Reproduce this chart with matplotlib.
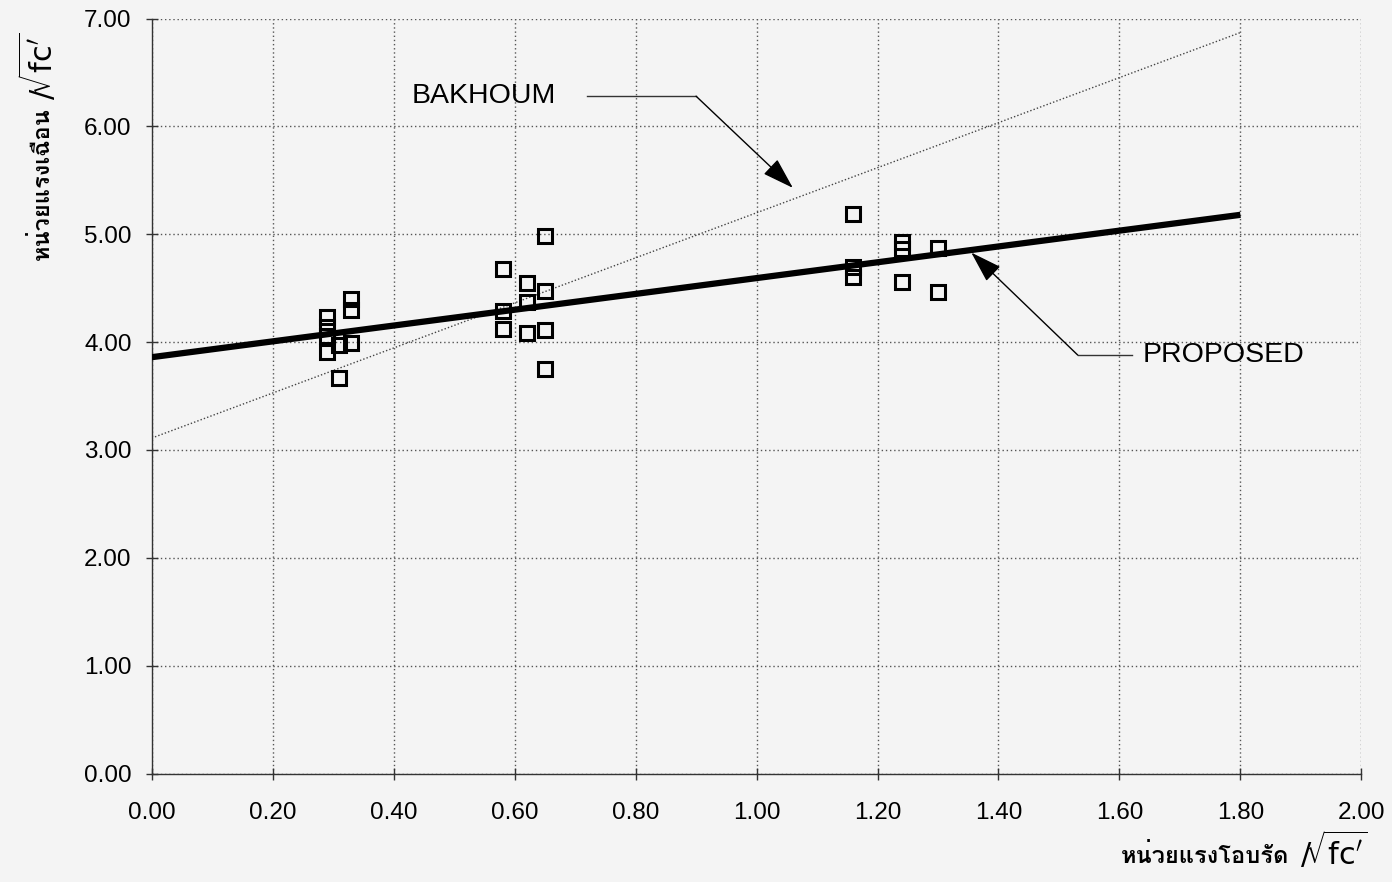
import matplotlib
matplotlib.use('Agg')
from matplotlib import pyplot as plt
from matplotlib import font_manager
from matplotlib.ft2font import FT2Font

# test data: shear stress vs. confinement stress (both / sqrt(fc'))
x_test = [0.29, 0.29, 0.29, 0.29, 0.31, 0.31, 0.33, 0.33, 0.33,
          0.58, 0.58, 0.58, 0.62, 0.62, 0.62, 0.65, 0.65, 0.65, 0.65,
          1.16, 1.16, 1.16, 1.24, 1.24, 1.24, 1.30, 1.30]
y_test = [4.23, 4.14, 4.06, 3.91, 3.97, 3.67, 4.40, 4.30, 3.99,
          4.68, 4.29, 4.12, 4.55, 4.37, 4.08, 4.98, 4.47, 4.11, 3.75,
          5.19, 4.70, 4.60, 4.93, 4.86, 4.56, 4.87, 4.46]

# fitted lines
line_x = [0.0, 1.80]
proposed_y = [3.86, 5.18]
bakhoum_y = [3.11, 6.87]

x_ticks = [0.0, 0.2, 0.4, 0.6, 0.8, 1.0, 1.2, 1.4, 1.6, 1.8, 2.0]
y_ticks = [0, 1, 2, 3, 4, 5, 6, 7]

x_label = 'หน่วยแรงโอบรัด'
y_label = 'หน่วยแรงเฉือน'
root_label = r"$/\!\sqrt{\mathrm{fc'}}$"


def thai_font():
    """first installed font that has thai glyphs"""
    for f in font_manager.fontManager.ttflist:
        try:
            if 0x0E2B in FT2Font(f.fname).get_charmap():
                return f.name
        except Exception:
            pass
    return 'DejaVu Sans'


plt.rcParams['font.family'] = ['Liberation Sans', 'DejaVu Sans']
thai = [thai_font(), 'DejaVu Sans']

fig = plt.figure(figsize=(13.92, 8.82), dpi=100, facecolor='#f4f4f4')
ax = fig.add_axes([0.109, 0.123, 0.869, 0.856])
ax.set_facecolor('#f4f4f4')

ax.plot(line_x, bakhoum_y, color='#444444', linestyle=(0, (1, 1.5)), linewidth=1.0, zorder=2)
ax.plot(line_x, proposed_y, color='black', linewidth=4.5, solid_capstyle='butt', zorder=3)
ax.plot(x_test, y_test, linestyle='none', marker='s', markersize=9.8,
        markerfacecolor='none', markeredgecolor='black', markeredgewidth=2.2, zorder=4)

ax.set_xlim(0, 2.0)
ax.set_ylim(0, 7.0)
ax.set_xticks(x_ticks)
ax.set_yticks(y_ticks)
ax.set_xticklabels([f'{v:.2f}' for v in x_ticks])
ax.set_yticklabels([f'{v:.2f}' for v in y_ticks])
ax.tick_params(direction='inout', length=9, width=1, labelsize=17.5, color='#333333')
ax.tick_params(axis='x', pad=16)
ax.tick_params(axis='y', pad=10)
ax.grid(True, color='#555555', linestyle=(0, (1, 2)), linewidth=1.0)
ax.set_axisbelow(True)
for side in ['top', 'right']:
    ax.spines[side].set_visible(False)
for side in ['left', 'bottom']:
    ax.spines[side].set_color('#333333')
    ax.spines[side].set_linewidth(1.0)

# BAKHOUM leader
ax.text(0.43, 6.28, 'BAKHOUM', fontsize=20.5, ha='left', va='center')
ax.plot([0.72, 0.90], [6.28, 6.28], color='#333333', linewidth=1.0)
ax.annotate('', xy=(1.06, 5.43), xytext=(0.90, 6.28),
            arrowprops=dict(arrowstyle='-|>,head_length=1.1,head_width=0.35', color='black',
                            linewidth=1.0, mutation_scale=18, shrinkA=0, shrinkB=0))

# PROPOSED leader
ax.text(1.638, 3.88, 'PROPOSED', fontsize=20.5, ha='left', va='center')
ax.plot([1.531, 1.621], [3.88, 3.88], color='#333333', linewidth=1.0)
ax.annotate('', xy=(1.355, 4.83), xytext=(1.531, 3.88),
            arrowprops=dict(arrowstyle='-|>,head_length=1.1,head_width=0.35', color='black',
                            linewidth=1.0, mutation_scale=18, shrinkA=0, shrinkB=0))

# axis titles
fig.text(0.926, 0.030, x_label, family=thai, fontsize=17, fontweight='bold', ha='right', va='center')
fig.text(0.958, 0.035, root_label, fontsize=22, ha='center', va='center')
fig.text(0.030, 0.792, y_label, family=thai, fontsize=17, fontweight='bold', rotation=90,
         ha='center', va='center')
fig.text(0.028, 0.925, root_label, fontsize=22, rotation=90, ha='center', va='center')

plt.savefig('out.png', dpi=100, facecolor=fig.get_facecolor())
